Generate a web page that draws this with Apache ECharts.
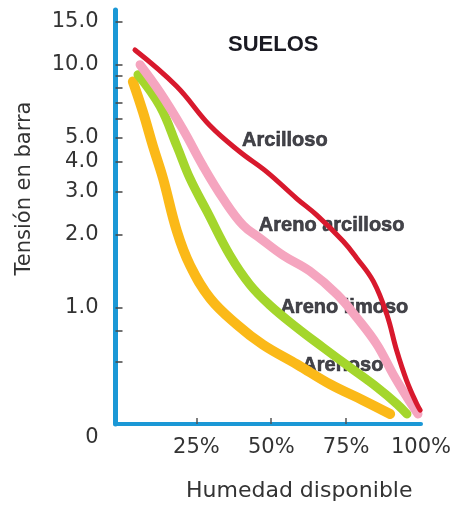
<!DOCTYPE html>
<html>
<head>
<meta charset="utf-8">
<script src="https://cdn.jsdelivr.net/npm/echarts@6/dist/echarts.min.js"></script>
<style>
html,body{margin:0;padding:0;background:#fff;}
#chart{width:461px;height:507px;}
</style>
</head>
<body>
<div id="chart"></div>
<script>
// Humedad disponible (%) and Tensión (bar)
const arcillosoX = [4.5, 18.4, 29.6, 39.6, 48.5, 58.5, 65.2, 74.1, 78.5, 84.1, 88.6, 91.9, 95.2, 98.6, 99.7];
const arcillosoY = [11.5, 8.15, 5.6, 4.37, 3.62, 2.81, 2.40, 1.87, 1.60, 1.28, 0.935, 0.663, 0.50, 0.40, 0.378];

const arenoArcillosoX = [6.2, 12.9, 20.5, 27.2, 33.9, 40.6, 46.2, 53.9, 62.9, 72.0, 78.6, 85.3, 90.7, 95.3, 99.0];
const arenoArcillosoY = [10.0, 7.68, 5.42, 3.83, 2.81, 2.18, 1.93, 1.64, 1.41, 1.13, 0.907, 0.703, 0.530, 0.427, 0.364];

const arenoLimosoX = [5.5, 12.9, 18.5, 22.9, 28.6, 36.2, 42.9, 49.6, 58.6, 67.3, 76.3, 85.3, 92.0, 95.3];
const arenoLimosoY = [9.1, 6.73, 4.62, 3.39, 2.48, 1.64, 1.24, 1.02, 0.825, 0.684, 0.566, 0.469, 0.400, 0.364];

const arenosoX = [3.8, 7.2, 10.5, 13.9, 18.5, 22.9, 29.6, 38.6, 47.2, 58.6, 69.6, 80.6, 89.7];
const arenosoY = [8.52, 6.37, 4.62, 3.39, 2.06, 1.49, 1.09, 0.849, 0.703, 0.583, 0.483, 0.415, 0.364];

// text labels of the curves
const curveNames = ['Arcilloso', 'Areno arcilloso', 'Areno limoso', 'Arenoso'];
const curveLabelX = [40.1, 45.7, 52.9, 60.2];
const curveLabelY = [4.89, 2.18, 0.996, 0.577];

// axis ticks / labels
const yLabelValues = [15, 10, 5, 4, 3, 2, 1];
const yTickValues = [15, 10, 9, 8, 7, 6, 5, 4, 3, 2, 1, 0.8, 0.6];
const xLabelValues = [25, 50, 75, 100];
const xTickValues = [25, 50, 75];
const yMinTension = 0.331;
const yMaxTension = 16.8;

const L = Math.log10;
const yMinLog = L(yMinTension);
const yMaxLog = L(yMaxTension);
const pairs = (xs, ys) => xs.map((x, i) => [x, L(ys[i])]);

const axisBlue = '#1b98d6';
const txt = '#333';
const axisFont = 'DejaVu Sans';

const lineSeries = (name, xs, ys, color, width) => ({
  name, type: 'line', data: pairs(xs, ys), smooth: 0.4, symbol: 'none', z: 3,
  lineStyle: { color, width, cap: 'round', join: 'round' }
});

const chart = echarts.init(document.getElementById('chart'), null, { renderer: 'canvas' });
chart.setOption({
  animation: false,
  backgroundColor: '#fff',
  title: {
    text: 'SUELOS', left: 223, top: 29,
    textStyle: { fontFamily: 'Liberation Sans', fontWeight: 'bold', fontSize: 22, color: '#1a1a22' }
  },
  grid: { left: 115.5, right: 40, top: 10, bottom: 80 },
  xAxis: {
    type: 'value', min: -2, max: 100,
    name: 'Humedad disponible', nameLocation: 'middle', nameGap: 56,
    nameTextStyle: { fontFamily: axisFont, fontSize: 22, color: txt, padding: [0, 0, 0, 62] },
    axisLine: { show: true, onZero: false, lineStyle: { color: axisBlue, width: 4 } },
    axisTick: { show: true, inside: true, length: 6, customValues: xTickValues, lineStyle: { color: '#555', width: 1.5 } },
    axisLabel: { customValues: xLabelValues, formatter: v => v + '%', margin: 13,
      fontFamily: axisFont, fontSize: 21, color: txt },
    splitLine: { show: false }
  },
  yAxis: {
    type: 'value', min: yMinLog, max: yMaxLog,
    name: 'Tensión en barra', nameLocation: 'middle', nameGap: 80, nameRotate: 90,
    nameTextStyle: { fontFamily: axisFont, fontSize: 21, color: txt, padding: [0, 0, 0, 57] },
    axisLine: { show: true, onZero: false, lineStyle: { color: axisBlue, width: 5 } },
    axisTick: { show: true, inside: true, length: 7, customValues: yTickValues.map(L), lineStyle: { color: '#444', width: 1.5 } },
    axisLabel: {
      customValues: [yMinLog + 1e-6].concat(yLabelValues.map(L)),
      formatter: v => (v < yMinLog + 1e-3 ? '{z|0}' : Math.pow(10, v).toFixed(1)),
      margin: 17, fontFamily: axisFont, fontSize: 21, color: txt,
      rich: { z: { fontFamily: axisFont, fontSize: 21, color: txt, padding: [28, 0, 0, 0] } }
    },
    splitLine: { show: false }
  },
  series: [
    {
      name: 'labels', type: 'scatter', z: 1, symbolSize: 1, itemStyle: { color: 'rgba(0,0,0,0)' },
      data: curveNames.map((n, i) => ({ name: n, value: [curveLabelX[i], L(curveLabelY[i])] })),
      label: { show: true, position: 'right', distance: 0, formatter: p => p.name,
        fontFamily: 'Liberation Sans', fontWeight: 'bold', fontSize: 20, color: '#15151d',
        textBorderColor: '#15151d', textBorderWidth: 0.6 },
      emphasis: { disabled: true },
      silent: true
    },
    lineSeries('Arenoso', arenosoX, arenosoY, '#fbb918', 10),
    lineSeries('Areno limoso', arenoLimosoX, arenoLimosoY, '#a4d62c', 9),
    lineSeries('Areno arcilloso', arenoArcillosoX, arenoArcillosoY, '#f5a5bf', 9),
    lineSeries('Arcilloso', arcillosoX, arcillosoY, '#d8192d', 5)
  ]
});
</script>
</body>
</html>
